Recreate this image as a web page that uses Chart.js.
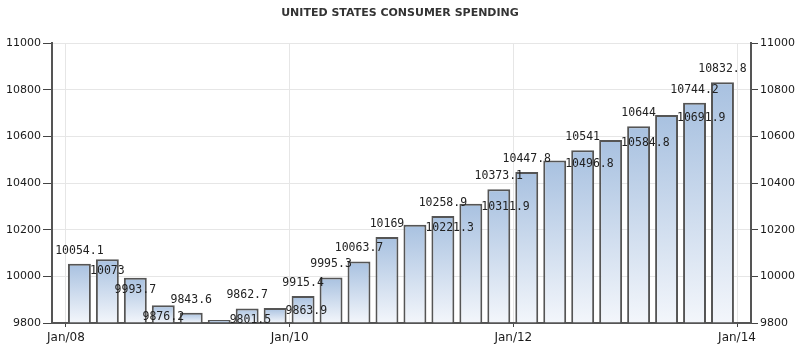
<!DOCTYPE html>
<html>
<head>
<meta charset="utf-8">
<script src="https://cdn.jsdelivr.net/npm/chart.js@4.4.0/dist/chart.umd.min.js"></script>
<style>
  html, body { margin: 0; padding: 0; background: #fff; }
  #wrap { width: 800px; height: 351px; position: relative; }
</style>
</head>
<body>
<div id="wrap"><canvas id="chart"></canvas></div>
<script>
// consumer spending per quarter, Q1 2008 .. Q4 2013
var quarters = ['2008Q1','2008Q2','2008Q3','2008Q4','2009Q1','2009Q2','2009Q3','2009Q4',
                '2010Q1','2010Q2','2010Q3','2010Q4','2011Q1','2011Q2','2011Q3','2011Q4',
                '2012Q1','2012Q2','2012Q3','2012Q4','2013Q1','2013Q2','2013Q3','2013Q4'];
var spending = [10054.1, 10073, 9993.7, 9876.2, 9843.6, 9801.5, 9862.7, 9863.9,
                9915.4, 9995.3, 10063.7, 10169, 10221.3, 10258.9, 10311.9, 10373.1,
                10447.8, 10496.8, 10541, 10584.8, 10644, 10691.9, 10744.2, 10832.8];
// x ticks, counted in quarters from Jan/08
var xTickPos = [0, 8, 16, 24];
var xTickLabels = ['Jan/08', 'Jan/10', 'Jan/12', 'Jan/14'];
var yMin = 9800, yMax = 11000, yStep = 200;

// where each value label sits: a = above, b = under the top, r = right of the bar
var labelPlace = ['a','b','b','b','a','r','a','r','a','a','a','a',
                  'r','a','r','a','a','r','a','r','a','r','a','a'];

var barLabels = {
  id: 'barLabels',
  afterDatasetsDraw: function(chart, args, opts) {
    var ctx = chart.ctx;
    var meta = chart.getDatasetMeta(0);
    var area = chart.chartArea;
    ctx.save();
    ctx.font = opts.font;
    ctx.fillStyle = opts.color;
    ctx.textBaseline = 'middle';
    meta.data.forEach(function(bar, i) {
      var txt = String(spending[i]);
      var p = opts.place[i];
      if (p === 'r') {
        ctx.textAlign = 'left';
        ctx.fillText(txt, bar.x + bar.width / 2 - 1, Math.min(bar.y + 3, area.bottom - 3));
      } else {
        ctx.textAlign = 'center';
        ctx.fillText(txt, bar.x, p === 'a' ? bar.y - 13 : bar.y + 12);
      }
    });
    ctx.restore();
  }
};

function barFill(c) {
  var chart = c.chart, area = chart.chartArea;
  if (!area || !c.parsed) return '#c4d6ec';
  var top = chart.scales.y.getPixelForValue(c.parsed.y);
  var g = chart.ctx.createLinearGradient(0, top, 0, area.bottom);
  g.addColorStop(0, '#a8c1e0');
  g.addColorStop(1, '#f3f6fb');
  return g;
}

var yAxis = function(side) {
  return {
    type: 'linear',
    position: side,
    min: yMin,
    max: yMax,
    afterFit: function(s) { s.width = side === 'left' ? 52 : 49; },
    ticks: {
      stepSize: yStep,
      padding: 2,
      color: '#1a1a1a',
      font: { family: 'DejaVu Sans', size: 11 },
      callback: function(v) { return String(v); }
    },
    grid: {
      color: '#e6e6e6',
      drawOnChartArea: side === 'left',
      tickColor: '#444',
      tickLength: side === 'left' ? 9 : 7
    },
    border: { display: true, color: '#555', width: 2 }
  };
};

new Chart(document.getElementById('chart'), {
  type: 'bar',
  data: {
    labels: quarters,
    datasets: [{
      data: spending.map(function(v, i) { return { x: i + 0.48, y: v }; }),
      base: yMin,
      minBarLength: 3,
      backgroundColor: barFill,
      borderColor: '#555',
      borderWidth: 2,
      categoryPercentage: 1,
      barPercentage: 0.82
    }]
  },
  options: {
    responsive: true,
    maintainAspectRatio: false,
    animation: false,
    layout: { padding: 0 },
    plugins: {
      legend: { display: false },
      tooltip: { enabled: false },
      title: {
        display: true,
        text: 'UNITED STATES CONSUMER SPENDING',
        color: '#333',
        font: { family: 'DejaVu Sans', size: 11, weight: 'bold' },
        padding: { top: 7, bottom: 23 }
      },
      barLabels: {
        place: labelPlace,
        font: '11.5px "DejaVu Sans Mono"',
        color: '#222'
      }
    },
    scales: {
      x: {
        type: 'linear',
        offset: false,
        min: -0.5,
        max: 24.5,
        afterFit: function(s) { s.height = 28; },
        afterBuildTicks: function(s) {
          s.ticks = xTickPos.map(function(v) { return { value: v }; });
        },
        ticks: {
          autoSkip: false,
          maxRotation: 0,
          padding: 4,
          color: '#1a1a1a',
          font: { family: 'DejaVu Sans', size: 12 },
          callback: function(v) { return xTickLabels[xTickPos.indexOf(v)]; }
        },
        grid: { offset: false, color: '#e6e6e6', tickColor: '#444', tickLength: 4 },
        border: { display: true, color: '#555', width: 2 }
      },
      y: yAxis('left'),
      y2: yAxis('right')
    }
  },
  plugins: [barLabels]
});
</script>
</body>
</html>
